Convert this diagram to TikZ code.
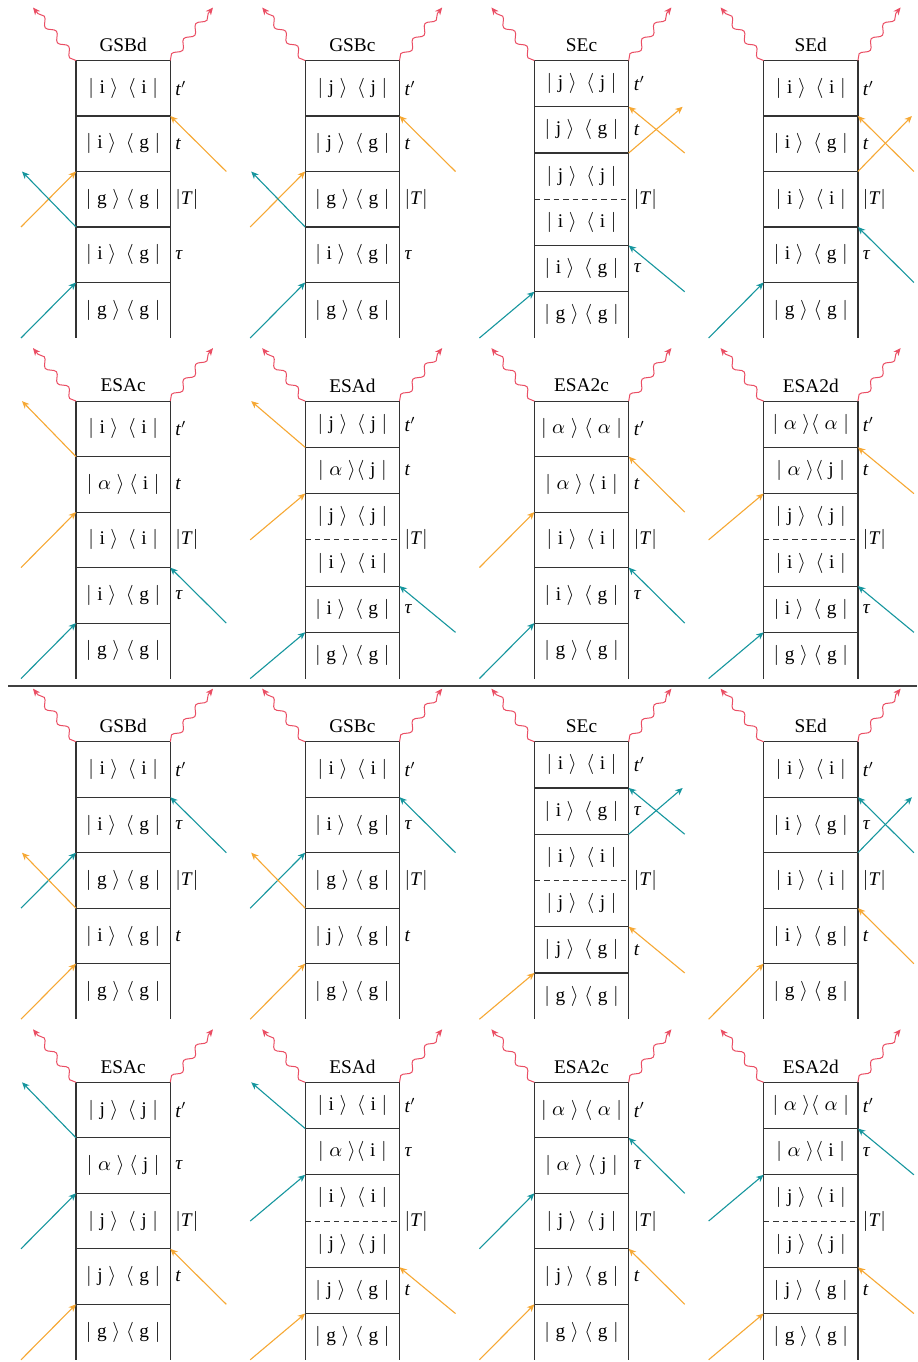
\documentclass[tikz,border=0pt]{standalone}
\usepackage{fontspec}
\setmainfont{Liberation Serif}
\usetikzlibrary{decorations.pathmorphing,arrows.meta}
\definecolor{orng}{RGB}{246,168,52}
\definecolor{tealc}{RGB}{22,150,158}
\definecolor{wred}{RGB}{234,78,100}
\newcommand\kb[3]{$|\;\mathrm{#1}\;\rangle\hspace{#3em}\langle\;\mathrm{#2}\;|$}
\newcommand\al{\alpha}
\tikzset{
 bx/.style={line width=0.65pt, draw=black!80},
 dsh/.style={line width=0.6pt, draw=black!80, dash pattern=on 3pt off 2.2pt},
 cell/.style={inner sep=0pt},
 lab/.style={anchor=west, inner sep=0pt},
 ttl/.style={inner sep=0pt},
 tip/.style={-{Stealth[length=4pt,width=3.5pt,inset=1.2pt]}},
 wav/.style={tip, draw=wred, line width=0.55pt, decorate, decoration={snake, amplitude=1.8pt, segment length=10.5pt, post length=3.5pt}},
 oa/.style={tip, draw=orng, line width=0.6pt},
 ta/.style={tip, draw=tealc, line width=0.6pt},
 sepl/.style={line width=0.7pt, draw=black!75}
}
% five-row frame: prefix, title, rows
\newcommand\Five[7]{%
 \def\rh{55.5}%
 \foreach \k in {0,...,5}{\coordinate (#1L\k) at (0,\k*55.5); \coordinate (#1R\k) at (94.3,\k*55.5);}
 \draw[bx] (#1L0) -- (#1L5) (#1R0) -- (#1R5);
 \foreach \k in {0,...,4}{\draw[bx] (#1L\k) -- (#1R\k);}
 \node[cell] (#1c1) at (47.15,27.75) {#3};
 \node[cell] (#1c2) at (47.15,83.25) {#4};
 \node[cell] (#1c3) at (47.15,138.75) {#5};
 \node[cell] (#1c4) at (47.15,194.25) {#6};
 \node[cell] (#1c5) at (47.15,249.75) {#7};
 \node[ttl] (#1t) at (47.15,-15.5) {#2};
 \coordinate (#1wl) at (-43,-53); \coordinate (#1wr) at (137,-53);
 \draw[wav] (#1L0) -- (#1wl); \draw[wav] (#1R0) -- (#1wr);
}
% six-row frame
\newcommand\Six[8]{%
 \def\rh{46.25}%
 \foreach \k in {0,...,6}{\coordinate (#1L\k) at (0,\k*46.25); \coordinate (#1R\k) at (94.3,\k*46.25);}
 \draw[bx] (#1L0) -- (#1L6) (#1R0) -- (#1R6);
 \foreach \k in {0,1,2,4,5}{\draw[bx] (#1L\k) -- (#1R\k);}
 \draw[dsh] (#1L3) -- (#1R3);
 \node[cell] (#1c1) at (47.15,23.125) {#3};
 \node[cell] (#1c2) at (47.15,69.375) {#4};
 \node[cell] (#1c3) at (47.15,115.625) {#5};
 \node[cell] (#1c4) at (47.15,161.875) {#6};
 \node[cell] (#1c5) at (47.15,208.125) {#7};
 \node[cell] (#1c6) at (47.15,254.375) {#8};
 \node[ttl] (#1t) at (47.15,-15.5) {#2};
 \coordinate (#1wl) at (-43,-53); \coordinate (#1wr) at (137,-53);
 \draw[wav] (#1L0) -- (#1wl); \draw[wav] (#1R0) -- (#1wr);
}
\newcommand\ltp{\textit{t}$'$}
\newcommand\ltau{\textit{τ}}
\newcommand\ltt{\textit{t}}
\newcommand\lTT{$|$\textit{T}$|$}
\newcommand\LabF[3]{%
 \node[lab] (#1la) at (99,27.75) {\ltp};
 \node[lab] (#1lb) at (99,83.25) {#2};
 \node[lab] (#1lc) at (99,138.75) {\lTT};
 \node[lab] (#1ld) at (99,194.25) {#3};
}
\newcommand\LabS[3]{%
 \node[lab] (#1la) at (99,23.125) {\ltp};
 \node[lab] (#1lb) at (99,69.375) {#2};
 \node[lab] (#1lc) at (99,138.75) {\lTT};
 \node[lab] (#1ld) at (99,208.125) {#3};
}
\newcommand\inL[3]{\coordinate (#1iL#2) at (-55,{(#2+1)*\rh}); \draw[#3] (#1iL#2) -- (#1L#2);}
\newcommand\inR[3]{\coordinate (#1iR#2) at (150.3,{(#2+1)*\rh}); \draw[#3] (#1iR#2) -- (#1R#2);}
\newcommand\outL[3]{\coordinate (#1oL#2) at (-54,{(#2-1)*\rh}); \draw[#3] (#1L#2) -- (#1oL#2);}
\newcommand\outR[3]{\coordinate (#1oR#2) at (148.3,{(#2-1)*\rh}); \draw[#3] (#1R#2) -- (#1oR#2);}
\begin{document}
\begin{tikzpicture}[x=0.543pt,y=-0.543pt,font=\fontsize{10.5}{12.6}\selectfont]
\useasboundingbox (0,0) rectangle (917,1362);
% ---------- top half ----------
\begin{scope}[shift={(76,60.5)}]
 \Five{a}{GSBd}{\kb{i}{i}{.5}}{\kb{i}{g}{.5}}{\kb{g}{g}{.3}}{\kb{i}{g}{.5}}{\kb{g}{g}{.3}}
 \LabF{a}{\ltt}{\ltau}
 \inL{a}{4}{ta} \inL{a}{2}{oa} \outL{a}{3}{ta} \inR{a}{1}{oa}
\end{scope}
\begin{scope}[shift={(305.2,60.5)}]
 \Five{b}{GSBc}{\kb{j}{j}{.5}}{\kb{j}{g}{.5}}{\kb{g}{g}{.3}}{\kb{i}{g}{.5}}{\kb{g}{g}{.3}}
 \LabF{b}{\ltt}{\ltau}
 \inL{b}{4}{ta} \inL{b}{2}{oa} \outL{b}{3}{ta} \inR{b}{1}{oa}
\end{scope}
\begin{scope}[shift={(534.4,60.5)}]
 \Six{c}{SEc}{\kb{j}{j}{.5}}{\kb{j}{g}{.5}}{\kb{j}{j}{.5}}{\kb{i}{i}{.5}}{\kb{i}{g}{.5}}{\kb{g}{g}{.3}}
 \LabS{c}{\ltt}{\ltau}
 \inL{c}{5}{ta} \inR{c}{4}{ta} \inR{c}{1}{oa} \outR{c}{2}{oa}
\end{scope}
\begin{scope}[shift={(763.6,60.5)}]
 \Five{d}{SEd}{\kb{i}{i}{.5}}{\kb{i}{g}{.5}}{\kb{i}{i}{.5}}{\kb{i}{g}{.5}}{\kb{g}{g}{.3}}
 \LabF{d}{\ltt}{\ltau}
 \inL{d}{4}{ta} \inR{d}{3}{ta} \inR{d}{1}{oa} \outR{d}{2}{oa}
\end{scope}
\begin{scope}[shift={(76,401.1)}]
 \Five{e}{ESAc}{\kb{i}{i}{.5}}{\kb{\al}{i}{.25}}{\kb{i}{i}{.5}}{\kb{i}{g}{.5}}{\kb{g}{g}{.3}}
 \LabF{e}{\ltt}{\ltau}
 \inL{e}{4}{ta} \inR{e}{3}{ta} \inL{e}{2}{oa} \outL{e}{1}{oa}
\end{scope}
\begin{scope}[shift={(305.2,401.1)}]
 \Six{f}{ESAd}{\kb{j}{j}{.5}}{\kb{\al}{j}{.05}}{\kb{j}{j}{.5}}{\kb{i}{i}{.5}}{\kb{i}{g}{.5}}{\kb{g}{g}{.3}}
 \LabS{f}{\ltt}{\ltau}
 \outL{f}{1}{oa} \inL{f}{2}{oa} \inR{f}{4}{ta} \inL{f}{5}{ta}
\end{scope}
\begin{scope}[shift={(534.4,401.1)}]
 \Five{g}{ESA2c}{\kb{\al}{\al}{.3}}{\kb{\al}{i}{.25}}{\kb{i}{i}{.5}}{\kb{i}{g}{.5}}{\kb{g}{g}{.3}}
 \LabF{g}{\ltt}{\ltau}
 \inR{g}{1}{oa} \inL{g}{2}{oa} \inR{g}{3}{ta} \inL{g}{4}{ta}
\end{scope}
\begin{scope}[shift={(763.6,401.1)}]
 \Six{h}{ESA2d}{\kb{\al}{\al}{.05}}{\kb{\al}{j}{.05}}{\kb{j}{j}{.5}}{\kb{i}{i}{.5}}{\kb{i}{g}{.5}}{\kb{g}{g}{.3}}
 \LabS{h}{\ltt}{\ltau}
 \inR{h}{1}{oa} \inL{h}{2}{oa} \inR{h}{4}{ta} \inL{h}{5}{ta}
\end{scope}
% ---------- separator ----------
\coordinate (s1) at (8,686); \coordinate (s2) at (917,686);
\draw[sepl] (s1) -- (s2);
% ---------- bottom half ----------
\begin{scope}[shift={(76,741.7)}]
 \Five{i}{GSBd}{\kb{i}{i}{.5}}{\kb{i}{g}{.5}}{\kb{g}{g}{.3}}{\kb{i}{g}{.5}}{\kb{g}{g}{.3}}
 \LabF{i}{\ltau}{\ltt}
 \inL{i}{4}{oa} \inL{i}{2}{ta} \outL{i}{3}{oa} \inR{i}{1}{ta}
\end{scope}
\begin{scope}[shift={(305.2,741.7)}]
 \Five{j}{GSBc}{\kb{i}{i}{.5}}{\kb{i}{g}{.5}}{\kb{g}{g}{.3}}{\kb{j}{g}{.5}}{\kb{g}{g}{.3}}
 \LabF{j}{\ltau}{\ltt}
 \inL{j}{4}{oa} \inL{j}{2}{ta} \outL{j}{3}{oa} \inR{j}{1}{ta}
\end{scope}
\begin{scope}[shift={(534.4,741.7)}]
 \Six{k}{SEc}{\kb{i}{i}{.5}}{\kb{i}{g}{.5}}{\kb{i}{i}{.5}}{\kb{j}{j}{.5}}{\kb{j}{g}{.5}}{\kb{g}{g}{.3}}
 \LabS{k}{\ltau}{\ltt}
 \inL{k}{5}{oa} \inR{k}{4}{oa} \inR{k}{1}{ta} \outR{k}{2}{ta}
\end{scope}
\begin{scope}[shift={(763.6,741.7)}]
 \Five{l}{SEd}{\kb{i}{i}{.5}}{\kb{i}{g}{.5}}{\kb{i}{i}{.5}}{\kb{i}{g}{.5}}{\kb{g}{g}{.3}}
 \LabF{l}{\ltau}{\ltt}
 \inL{l}{4}{oa} \inR{l}{3}{oa} \inR{l}{1}{ta} \outR{l}{2}{ta}
\end{scope}
\begin{scope}[shift={(76,1082.3)}]
 \Five{m}{ESAc}{\kb{j}{j}{.5}}{\kb{\al}{j}{.25}}{\kb{j}{j}{.5}}{\kb{j}{g}{.5}}{\kb{g}{g}{.3}}
 \LabF{m}{\ltau}{\ltt}
 \inL{m}{4}{oa} \inR{m}{3}{oa} \inL{m}{2}{ta} \outL{m}{1}{ta}
\end{scope}
\begin{scope}[shift={(305.2,1082.3)}]
 \Six{n}{ESAd}{\kb{i}{i}{.5}}{\kb{\al}{i}{.05}}{\kb{i}{i}{.5}}{\kb{j}{j}{.5}}{\kb{j}{g}{.5}}{\kb{g}{g}{.3}}
 \LabS{n}{\ltau}{\ltt}
 \outL{n}{1}{ta} \inL{n}{2}{ta} \inR{n}{4}{oa} \inL{n}{5}{oa}
\end{scope}
\begin{scope}[shift={(534.4,1082.3)}]
 \Five{o}{ESA2c}{\kb{\al}{\al}{.3}}{\kb{\al}{j}{.25}}{\kb{j}{j}{.5}}{\kb{j}{g}{.5}}{\kb{g}{g}{.3}}
 \LabF{o}{\ltau}{\ltt}
 \inR{o}{1}{ta} \inL{o}{2}{ta} \inR{o}{3}{oa} \inL{o}{4}{oa}
\end{scope}
\begin{scope}[shift={(763.6,1082.3)}]
 \Six{p}{ESA2d}{\kb{\al}{\al}{.05}}{\kb{\al}{i}{.05}}{\kb{j}{i}{.5}}{\kb{j}{j}{.5}}{\kb{j}{g}{.5}}{\kb{g}{g}{.3}}
 \LabS{p}{\ltau}{\ltt}
 \inR{p}{1}{ta} \inL{p}{2}{ta} \inR{p}{4}{oa} \inL{p}{5}{oa}
\end{scope}
\end{tikzpicture}
\end{document}
